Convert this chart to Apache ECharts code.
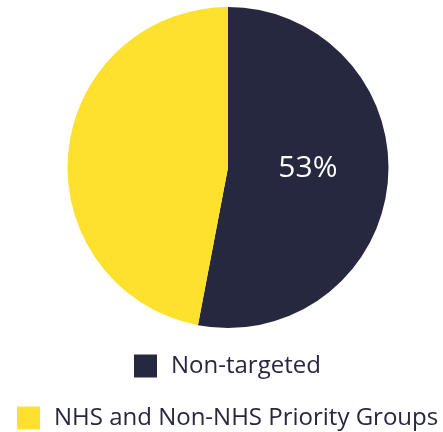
<!DOCTYPE html>
<html>
<head>
<meta charset="utf-8">
<script src="https://cdn.jsdelivr.net/npm/echarts@6/dist/echarts.min.js"></script>
<style>
  html, body { margin: 0; padding: 0; background: #ffffff; }
  #chart { width: 443px; height: 432px; }
</style>
</head>
<body>
<div id="chart"></div>
<script>
// Share of groups (percent)
const categories = ['Non-targeted', 'NHS and Non-NHS Priority Groups'];
const values = [53, 47];
const colors = ['#262840', '#fde12d'];

const font = '"Open Sans", sans-serif';

const chart = echarts.init(document.getElementById('chart'), null, { renderer: 'canvas' });

function legendFor(i, left, top) {
  return {
    data: [categories[i]],
    left: left,
    top: top,
    padding: 0,
    orient: 'horizontal',
    icon: 'rect',
    itemWidth: 23,
    itemHeight: 23,
    selectedMode: false,
    textStyle: {
      fontFamily: font,
      fontSize: 24,
      color: '#262840',
      lineHeight: 24,
      padding: [0, 0, 0, 9]
    }
  };
}

chart.setOption({
  animation: false,
  color: colors,
  legend: [legendFor(0, 134, 354), legendFor(1, 17, 406)],
  series: [{
    type: 'pie',
    center: [228, 167.5],
    radius: [0, 160.5],
    startAngle: 90,
    clockwise: true,
    data: categories.map((name, i) => ({
      name: name,
      value: values[i],
      label: i === 0 ? {
        show: true,
        position: 'inside',
        formatter: p => Math.round(p.value) + '%',
        color: '#ffffff',
        fontFamily: font,
        fontSize: 30,
        offset: [-3, -7]
      } : { show: false }
    })),
    labelLine: { show: false },
    itemStyle: { borderWidth: 0 },
    emphasis: { disabled: true }
  }]
});
</script>
</body>
</html>
